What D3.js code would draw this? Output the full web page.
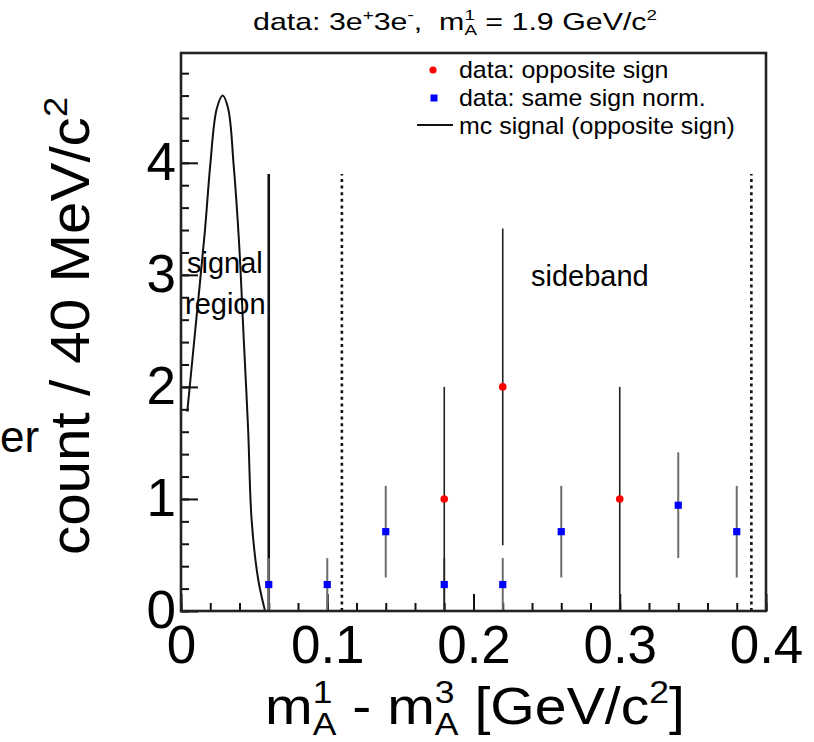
<html>
<head>
<script src="https://d3js.org/d3.v7.min.js"></script>
<style>
  body { margin: 0; background: #fff; }
  text { font-family: "Liberation Sans", Arial, Helvetica, sans-serif; fill: #000; white-space: pre; }
</style>
</head>
<body>
<svg id="chart" width="814" height="742"></svg>
<script>
// opposite sign data (red)
var osX = [0.18, 0.22, 0.30];
var osY = [1, 2, 1];
var osErr = [1, 1.414, 1];

// same sign normalised data (blue)
var ssX = [0.06, 0.10, 0.14, 0.18, 0.22, 0.26, 0.34, 0.38];
var ssY = [0.236, 0.236, 0.708, 0.236, 0.236, 0.708, 0.944, 0.708];
var ssErr = [0.236, 0.236, 0.409, 0.236, 0.236, 0.409, 0.472, 0.409];

// mc signal shape
var mcX = [0.0043, 0.0100, 0.0164, 0.0200, 0.0244, 0.0285, 0.0323, 0.0360, 0.0396, 0.0430, 0.0459, 0.0483, 0.0528, 0.0573];
var mcY = [1.78, 2.54, 3.40, 3.98, 4.48, 4.60, 4.48, 3.98, 3.31, 2.40, 1.62, 0.81, 0.28, 0.01];

// region boundaries
var signalEdge = 0.06;
var sidebandEdges = [0.11, 0.39];
var regionTop = 3.9;

var xMajor = [0, 0.1, 0.2, 0.3, 0.4];
var yMajor = [0, 1, 2, 3, 4];

var svg = d3.select("#chart");
svg.append("rect").attr("width", 814).attr("height", 742).attr("fill", "#fff");

var fL = 181, fR = 766, fT = 53, fB = 611;
var x = d3.scaleLinear().domain([0, 0.4]).range([fL, fR]);
var y = d3.scaleLinear().domain([0, 4.98]).range([fB, fT]);

// text with super/subscripts, laid out piece by piece
function rich(parent, parts, size) {
  var g = parent.append("g");
  var pos = 0;
  parts.forEach(function(p) {
    if (typeof p === "string") {
      var t = g.append("text").attr("x", pos).attr("font-size", size).text(p);
      pos += t.node().getComputedTextLength();
    } else {
      var s = size * 0.62, w = 0;
      if (p.sup) {
        var a = g.append("text").attr("x", pos).attr("y", -size * 0.4).attr("font-size", s).text(p.sup);
        w = Math.max(w, a.node().getComputedTextLength());
      }
      if (p.sub) {
        var b = g.append("text").attr("x", pos).attr("y", size * 0.22).attr("font-size", s).text(p.sub);
        w = Math.max(w, b.node().getComputedTextLength());
      }
      pos += w;
    }
  });
  return { g: g, width: pos };
}

// axes ticks (inside the frame)
var fmtX = function(d) { return d === 0 ? "0" : d3.format(".1f")(d); };

var xAxisMinor = d3.axisBottom(x).tickValues(d3.range(0, 0.401, 0.02)).tickSize(-8).tickFormat("");
var xAxisMajor = d3.axisBottom(x).tickValues(xMajor).tickSize(-17).tickPadding(14).tickFormat(fmtX);
var yAxisMinor = d3.axisLeft(y).tickValues(d3.range(0, 4.99, 0.2)).tickSize(-8).tickFormat("");
var yAxisMajor = d3.axisLeft(y).tickValues(yMajor).tickSize(-17).tickPadding(5).tickFormat(d3.format("d"));

function styleAxis(g) {
  g.select(".domain").remove();
  g.selectAll("line").attr("stroke", "#111").attr("stroke-width", 2);
  g.selectAll("text").attr("font-size", 53).attr("font-family", "Liberation Sans, Arial, sans-serif").attr("fill", "#000");
}
svg.append("g").attr("transform", "translate(0," + fB + ")").call(xAxisMinor).call(styleAxis);
svg.append("g").attr("transform", "translate(0," + fB + ")").call(xAxisMajor).call(styleAxis);
svg.append("g").attr("transform", "translate(" + fL + ",0)").call(yAxisMinor).call(styleAxis);
svg.append("g").attr("transform", "translate(" + fL + ",0)").call(yAxisMajor).call(styleAxis);

// mc signal curve
var line = d3.line().x(function(d) { return x(d[0]); }).y(function(d) { return y(d[1]); }).curve(d3.curveCatmullRom.alpha(0.5));
svg.append("path").datum(mcX.map(function(v, i) { return [v, mcY[i]]; }))
  .attr("d", line).attr("fill", "none").attr("stroke", "#111").attr("stroke-width", 2);

// region lines
svg.append("line").attr("x1", x(signalEdge)).attr("x2", x(signalEdge)).attr("y1", y(0)).attr("y2", y(regionTop))
  .attr("stroke", "#111").attr("stroke-width", 2.6);
svg.selectAll(".sb").data(sidebandEdges).enter().append("line")
  .attr("x1", function(d) { return x(d); }).attr("x2", function(d) { return x(d); })
  .attr("y1", y(0)).attr("y2", y(regionTop))
  .attr("stroke", "#111").attr("stroke-width", 2.6).attr("stroke-dasharray", "3,3.6");

// same sign error bars + markers
var ss = ssX.map(function(v, i) { return { x: v, y: ssY[i], e: ssErr[i] }; });
svg.selectAll(".sserr").data(ss).enter().append("line")
  .attr("x1", function(d) { return x(d.x); }).attr("x2", function(d) { return x(d.x); })
  .attr("y1", function(d) { return y(Math.max(0, d.y - d.e)); }).attr("y2", function(d) { return y(d.y + d.e); })
  .attr("stroke", "#6e6e6e").attr("stroke-width", 2);

var os = osX.map(function(v, i) { return { x: v, y: osY[i], e: osErr[i] }; });
svg.selectAll(".oserr").data(os).enter().append("line")
  .attr("x1", function(d) { return x(d.x); }).attr("x2", function(d) { return x(d.x); })
  .attr("y1", function(d) { return y(Math.max(0, d.y - d.e)); }).attr("y2", function(d) { return y(d.y + d.e); })
  .attr("stroke", "#222").attr("stroke-width", 1.6);

svg.selectAll(".ssm").data(ss).enter().append("rect")
  .attr("x", function(d) { return x(d.x) - 3.6; }).attr("y", function(d) { return y(d.y) - 3.6; })
  .attr("width", 7.2).attr("height", 7.2).attr("fill", "#0000ff");
svg.selectAll(".osm").data(os).enter().append("circle")
  .attr("cx", function(d) { return x(d.x); }).attr("cy", function(d) { return y(d.y); })
  .attr("r", 3.8).attr("fill", "#ff0000");

// frame
svg.append("rect").attr("x", fL).attr("y", fT).attr("width", fR - fL).attr("height", fB - fT)
  .attr("fill", "none").attr("stroke", "#222").attr("stroke-width", 2.6);

// legend
svg.append("circle").attr("cx", 433).attr("cy", 70).attr("r", 3.6).attr("fill", "#ff0000");
svg.append("rect").attr("x", 430.5).attr("y", 94.5).attr("width", 7).attr("height", 7).attr("fill", "#0000ff");
svg.append("line").attr("x1", 417).attr("x2", 453).attr("y1", 125).attr("y2", 125).attr("stroke", "#111").attr("stroke-width", 2);
var legendText = ["data: opposite sign", "data: same sign norm.", "mc signal (opposite sign)"];
var legendY = [78, 106, 134];
legendText.forEach(function(t, i) {
  svg.append("text").attr("x", 459).attr("y", legendY[i]).attr("font-size", 24)
    .attr("transform", "translate(459,0) scale(1.04,1) translate(-459,0)").text(t);
});

// in-plot labels
svg.append("text").attr("x", 187).attr("y", 273).attr("font-size", 29).text("signal");
svg.append("text").attr("x", 185).attr("y", 314).attr("font-size", 29).text("region");
svg.append("text").attr("x", 531).attr("y", 286).attr("font-size", 29).text("sideband");
svg.append("text").attr("x", 0).attr("y", 452).attr("font-size", 44).text("er");

// title
var title = rich(svg, ["data: 3e", { sup: "+" }, "3e", { sup: "-" }, ",  m", { sup: "1", sub: "A" }, " = 1.9 GeV/c", { sup: "2" }], 24);
title.g.attr("transform", "translate(253,30) scale(" + (404 / title.width) + ",1)");

// x axis title
var xt = rich(svg, ["m", { sup: "1", sub: "A" }, " - m", { sup: "3", sub: "A" }, " [GeV/c", { sup: "2" }, "]"], 52);
xt.g.attr("transform", "translate(265,724) scale(" + (420 / xt.width) + ",1)");

// y axis title
var yt = rich(svg, ["count / 40 MeV/c", { sup: "2" }], 55);
yt.g.attr("transform", "translate(89,555) rotate(-90) scale(" + (458 / yt.width) + ",1)");
</script>
</body>
</html>
